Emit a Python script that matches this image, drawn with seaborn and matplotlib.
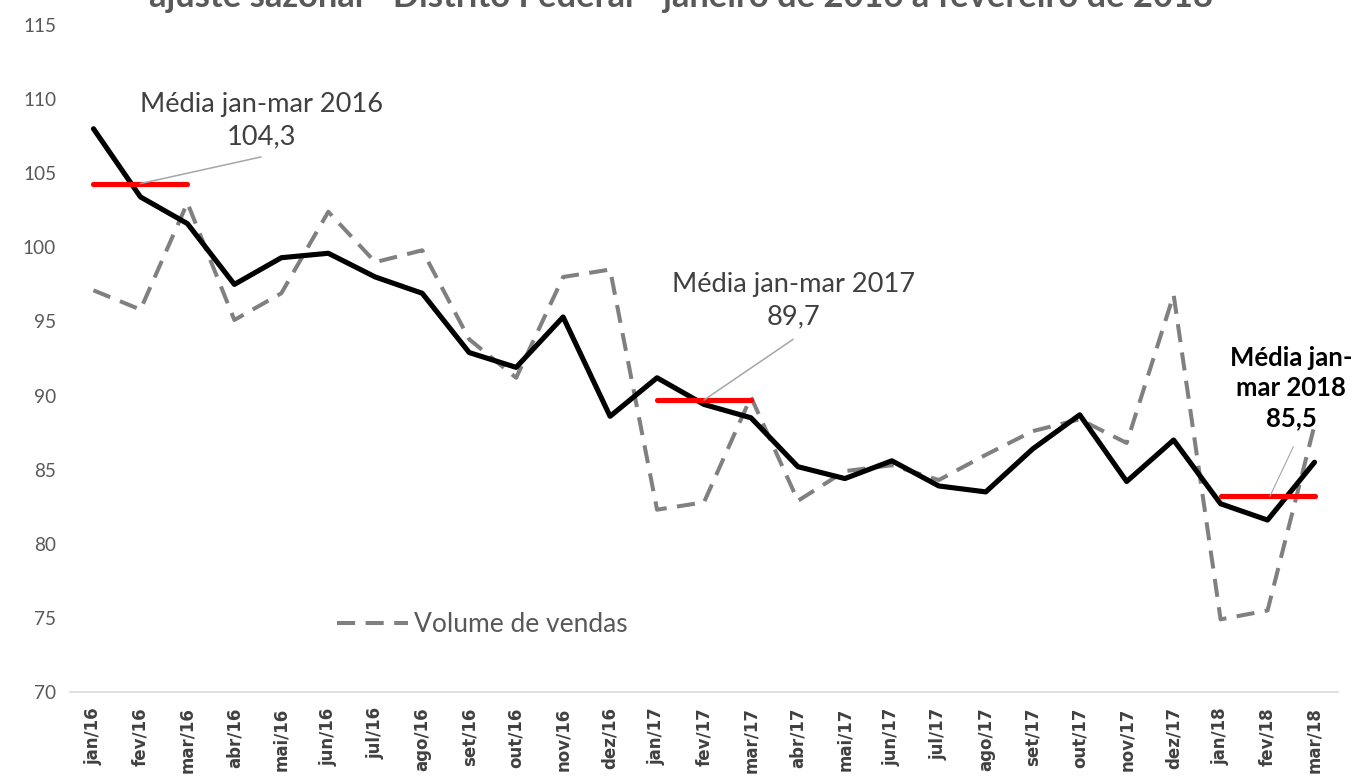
import matplotlib.pyplot as plt
import numpy as np
import pandas as pd
import seaborn as sns

# valores (indice, jan/16 a mar/18)
meses = ['jan/16', 'fev/16', 'mar/16', 'abr/16', 'mai/16', 'jun/16', 'jul/16',
         'ago/16', 'set/16', 'out/16', 'nov/16', 'dez/16',
         'jan/17', 'fev/17', 'mar/17', 'abr/17', 'mai/17', 'jun/17', 'jul/17',
         'ago/17', 'set/17', 'out/17', 'nov/17', 'dez/17',
         'jan/18', 'fev/18', 'mar/18']
volume = [97.1, 95.8, 103.0, 95.1, 96.9, 102.4, 99.0, 99.8, 93.8, 91.2, 98.0, 98.5,
          82.3, 82.8, 89.9, 82.9, 84.9, 85.3, 84.3, 86.0, 87.6, 88.4, 86.8, 96.8,
          74.9, 75.5, 88.0]
ajustado = [108.0, 103.4, 101.6, 97.5, 99.3, 99.6, 98.0, 96.9, 92.9, 91.9, 95.3, 88.6,
            91.2, 89.4, 88.5, 85.2, 84.4, 85.6, 83.9, 83.5, 86.4, 88.7, 84.2, 87.0,
            82.7, 81.6, 85.5]
# medias jan-mar (nivel desenhado) e inicio de cada trimestre
media_nivel = [104.3, 89.7, 83.2]
media_inicio = [0, 12, 24]
media_texto = ['Média jan-mar 2016\n104,3', 'Média jan-mar 2017\n89,7',
               'Média jan-\nmar 2018\n85,5']

df = pd.DataFrame({'pos': np.arange(len(meses)), 'mes': meses,
                   'volume': volume, 'ajustado': ajustado})

sns.set_style('white')
plt.rcParams['font.family'] = ['Lato', 'DejaVu Sans']

fig = plt.figure(figsize=(13.61, 7.76), dpi=100)
ax = fig.add_axes([70 / 1361, 1 - 692 / 776, 1268 / 1361, 667 / 776])

sns.lineplot(data=df, x='pos', y='volume', ax=ax, color='#808080', lw=2.9,
             dashes=False, label='Volume de vendas')
ax.lines[-1].set_dashes((4.5, 2.6))
sns.lineplot(data=df, x='pos', y='ajustado', ax=ax, color='black', lw=3.7,
             label='_nolegend_')

for ini, nivel in zip(media_inicio, media_nivel):
    seg = pd.DataFrame({'pos': df['pos'][ini:ini + 3], 'm': [nivel] * 3})
    sns.lineplot(data=seg, x='pos', y='m', ax=ax, color='#ff0000', lw=3.7,
                 solid_capstyle='round', label='_nolegend_')

# linhas de chamada e rotulos das medias
linha = dict(arrowstyle='-', color='#a6a6a6', lw=1.1, shrinkA=0, shrinkB=0)
ax.annotate('', xy=(1, media_nivel[0]), xytext=(3.57, 106.1), arrowprops=linha)
ax.annotate('', xy=(13, media_nivel[1]), xytext=(14.9, 93.8), arrowprops=linha)
ax.annotate('', xy=(25.05, media_nivel[2]), xytext=(25.55, 86.55),
            arrowprops=dict(linha, lw=0.8))

ax.text(3.57, 108.55, media_texto[0], ha='center', va='center', fontsize=19.6,
        color='#404040', linespacing=1.35)
ax.text(14.9, 96.4, media_texto[1], ha='center', va='center', fontsize=19.6,
        color='#404040', linespacing=1.35)
ax.text(25.5, 90.5, media_texto[2], ha='center', va='center', fontsize=18.5,
        color='black', weight='bold', linespacing=1.3)

ax.set_xlim(-0.5, len(meses) - 0.5)
ax.set_ylim(70, 115)
ax.set_yticks(np.arange(70, 116, 5))
ax.set_xticks(df['pos'])
ax.set_xticklabels(meses, rotation=90, fontsize=12, weight='bold', color='#404040',
                   family='DejaVu Sans')
ax.set_xticks(np.arange(-0.5, len(meses), 1), minor=True)
ax.tick_params(axis='x', which='major', length=0, pad=11)
ax.tick_params(axis='x', which='minor', length=8, color='#d9d9d9', width=1.2, direction='out')
ax.tick_params(axis='y', length=0, labelsize=13.7, labelcolor='#595959', pad=10)
ax.set_xlabel('')
ax.set_ylabel('')
for s in ['left', 'right', 'top']:
    ax.spines[s].set_visible(False)
ax.spines['bottom'].set_color('#d9d9d9')
ax.spines['bottom'].set_linewidth(1.2)

leg = ax.legend(loc='center left', bbox_to_anchor=(337 / 1361, 1 - 625 / 776),
                bbox_transform=fig.transFigure, frameon=False, fontsize=19,
                handlelength=2.7, handletextpad=0.2, borderpad=0, borderaxespad=0)
for t in leg.get_texts():
    t.set_color('#595959')

fig.text(681 / 1361, 1 - 7 / 776,
         'ajuste sazonal - Distrito Federal - janeiro de 2016 a fevereiro de 2018',
         ha='center', va='baseline', fontsize=24.8, weight='bold', color='#595959')

fig.savefig('out.png', dpi=100)
